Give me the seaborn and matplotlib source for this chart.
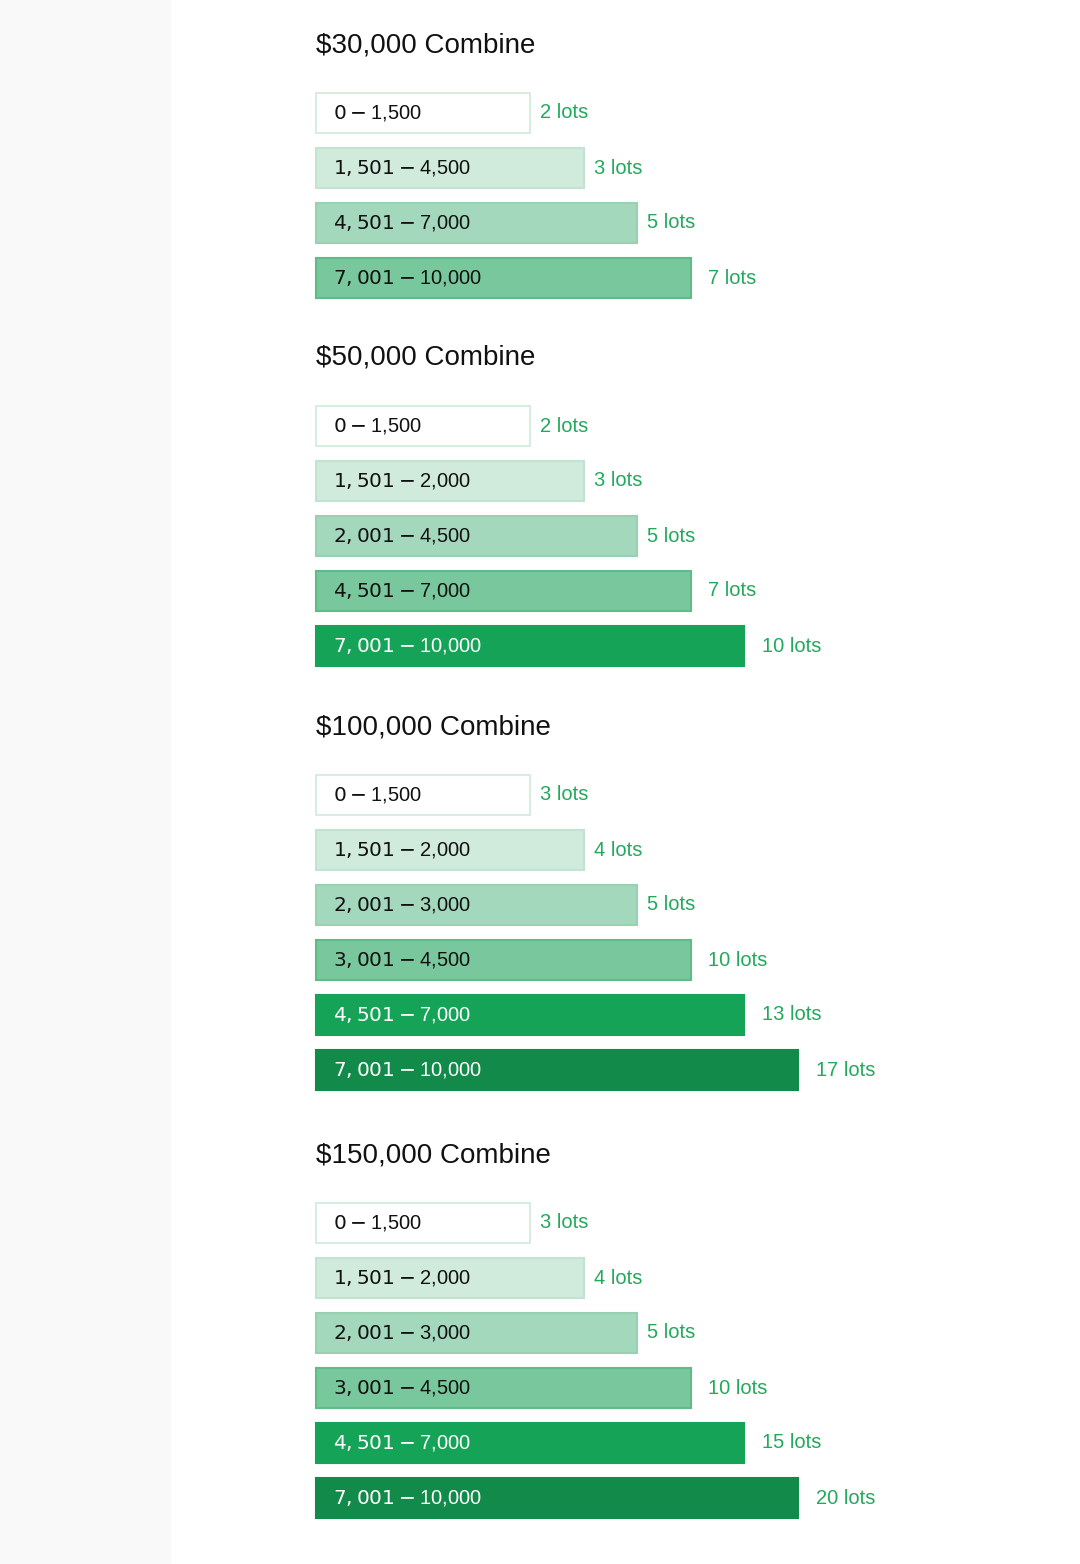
import matplotlib
matplotlib.use("Agg")
import matplotlib.pyplot as plt
import seaborn as sns

sns.set_theme(style="white")
plt.rcParams['font.family'] = ['Liberation Sans', 'DejaVu Sans']

titles = ["$30,000 Combine", "$50,000 Combine", "$100,000 Combine", "$150,000 Combine"]
ranges_30k = ["$0 - $1,500", "$1,501 - $4,500", "$4,501 - $7,000", "$7,001 - $10,000"]
lots_30k = [2, 3, 5, 7]
ranges_50k = ["$0 - $1,500", "$1,501 - $2,000", "$2,001 - $4,500", "$4,501 - $7,000", "$7,001 - $10,000"]
lots_50k = [2, 3, 5, 7, 10]
ranges_100k = ["$0 - $1,500", "$1,501 - $2,000", "$2,001 - $3,000", "$3,001 - $4,500", "$4,501 - $7,000", "$7,001 - $10,000"]
lots_100k = [3, 4, 5, 10, 13, 17]
ranges_150k = ["$0 - $1,500", "$1,501 - $2,000", "$2,001 - $3,000", "$3,001 - $4,500", "$4,501 - $7,000", "$7,001 - $10,000"]
lots_150k = [3, 4, 5, 10, 15, 20]

groups = [(ranges_30k, lots_30k), (ranges_50k, lots_50k), (ranges_100k, lots_100k), (ranges_150k, lots_150k)]
fills = ["#ffffff", "#d0eadc", "#a4d8bd", "#79c89d", "#15a457", "#128a4a"]
edges = ["#d6ede0", "#c2e3d1", "#97d1b2", "#5fbb88", "#15a457", "#128a4a"]
lot_color = "#22a95c"

W, H = 1080, 1564
fig = plt.figure(figsize=(W/100, H/100), dpi=100)
fig.patch.set_facecolor("#ffffff")
ax = fig.add_axes([0, 0, 1, 1])
ax.set_xlim(0, W)
ax.set_ylim(H, 0)
ax.axis("off")
ax.axvspan(0, 170, color="#f9f9f9", zorder=0)

title_y = [45, 358, 727, 1155]
unit = 53.5
left = 316
for g, ((rng, lots), ty) in enumerate(zip(groups, title_y)):
    ax.text(left, ty, titles[g], fontsize=20, color="#111111", va="center", ha="left")
    for i, (r, n) in enumerate(zip(rng, lots)):
        y = ty + 68 + i * 55
        w = unit * (i + 4)
        ax.barh(y, w, left=left, height=40, color=fills[i], edgecolor=edges[i], linewidth=1.5, zorder=2)
        tc = "white" if i >= 4 else "#111111"
        ax.text(left + 17, y, r, fontsize=14.5, color=tc, va="center", ha="left", zorder=3)
        ax.text(left + w + 10 + (8 if i >= 3 else 0), y, f"{n} lots", fontsize=14.5, color=lot_color,
                va="center", ha="left", zorder=3)

fig.savefig("out.png", dpi=100)
